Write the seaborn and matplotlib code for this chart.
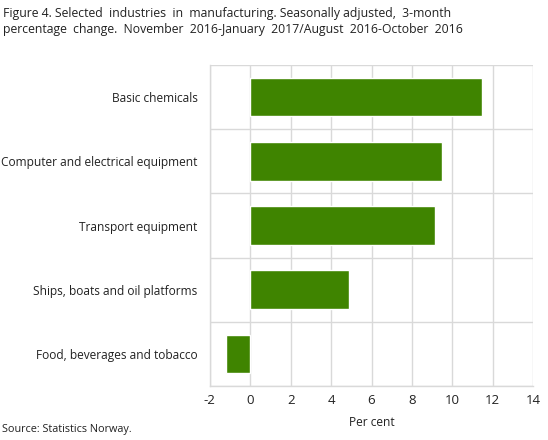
import matplotlib
matplotlib.use("Agg")
import matplotlib.pyplot as plt
import seaborn as sns
import pandas as pd
import numpy as np

# =====================================
# Data
# =====================================
industries = [
    "Basic chemicals",
    "Computer and electrical equipment",
    "Transport equipment",
    "Ships, boats and oil platforms",
    "Food, beverages and tobacco",
]
change = [11.45, 9.47, 9.14, 4.87, -1.19]

df = pd.DataFrame({"Industry": industries, "Change": change})

sns.set_style("white")
plt.rcParams["font.family"] = ["Open Sans", "DejaVu Sans"]
plt.rcParams["axes.unicode_minus"] = False

grid_col = "#d9d9d9"
text_col = "#222222"

fig = plt.figure(figsize=(5.48, 4.4), dpi=100)
ax = fig.add_axes([0.383, 0.123, 0.590, 0.729])

sns.barplot(data=df, x="Change", y="Industry", color="#3f8400",
            width=0.6, saturation=1, ax=ax, zorder=3)

ax.set_xlim(-2, 14)
ax.set_xticks(np.arange(-2, 15, 2))
ax.set_ylim(len(industries) - 0.5, -0.5)

# gridlines: vertical at ticks, horizontal at category boundaries
ax.set_yticks(np.arange(-0.5, len(industries), 1), minor=True)
ax.grid(True, axis="x", which="major", color=grid_col, linewidth=1, zorder=0)
ax.grid(True, axis="y", which="minor", color=grid_col, linewidth=1, zorder=0)
ax.grid(False, axis="y", which="major")

for side in ["top", "right"]:
    ax.spines[side].set_visible(False)
for side in ["left", "bottom"]:
    ax.spines[side].set_color(grid_col)
    ax.spines[side].set_linewidth(1)

ax.tick_params(axis="both", which="both", length=0, colors=text_col)
ax.tick_params(axis="y", labelsize=8.6, pad=9)
ax.tick_params(axis="x", labelsize=9.5, pad=6)

ax.set_ylabel("")
ax.set_xlabel("Per cent", fontsize=8.6, color=text_col, labelpad=6)

fig.text(0.006, 0.985,
         "Figure 4. Selected  industries  in  manufacturing. Seasonally adjusted,  3-month\n"
         "percentage  change.  November  2016-January  2017/August  2016-October  2016",
         ha="left", va="top", fontsize=8.8, color=text_col, linespacing=1.35)
fig.text(0.004, 0.012, "Source: Statistics Norway.", ha="left", va="bottom",
         fontsize=7.8, color=text_col)

fig.savefig("out.png", dpi=100)
plt.close(fig)
